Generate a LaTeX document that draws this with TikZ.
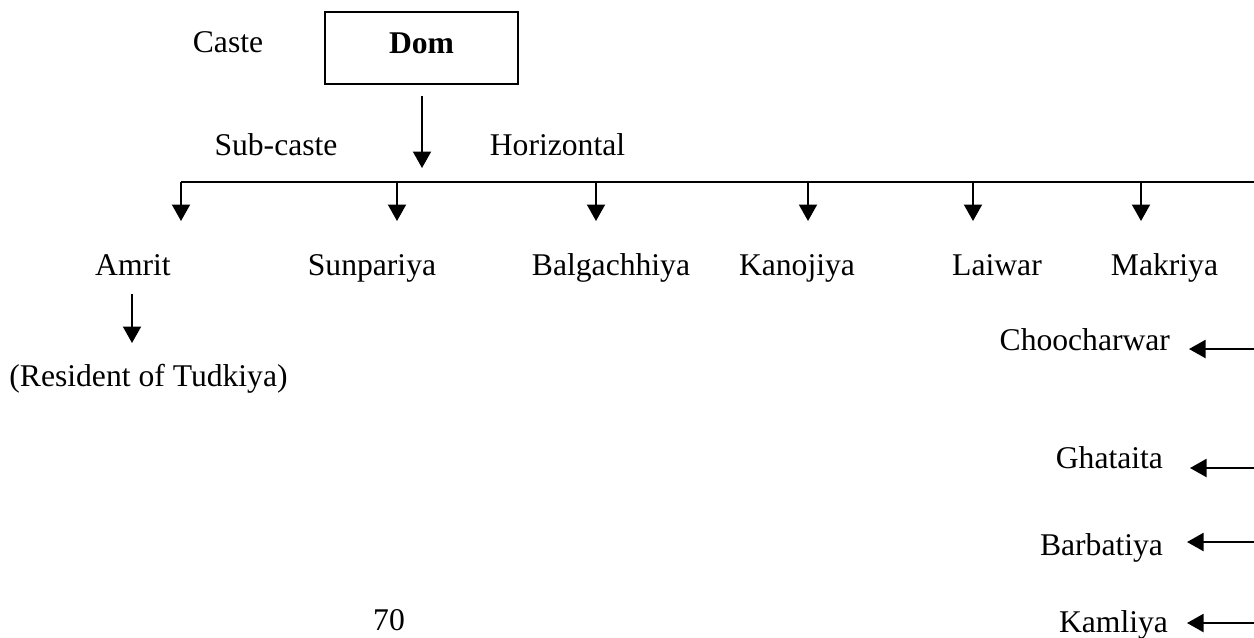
\documentclass[tikz,border=0pt]{standalone}
\usepackage{fontspec}
\setmainfont{Liberation Serif}
\usetikzlibrary{arrows.meta}
\begin{document}
\begin{tikzpicture}[x=0.02cm,y=-0.02cm,
  every node/.style={inner sep=0pt,outer sep=0pt,font=\fontsize{18}{21.6}\selectfont},
  lbl/.style={anchor=base},
  rlbl/.style={anchor=base east},
  arr/.style={line width=0.04cm,-{Triangle[width=0.36cm,length=0.33cm]}},
  rule/.style={line width=0.04cm},
  castebox/.style={draw,line width=0.035cm,minimum width=193*0.02cm,minimum height=72*0.02cm}]
\useasboundingbox (0,0) rectangle (1254,637);

% caste box and headings
\node[castebox] (dombox) at (421.5,48) {};
\node[lbl] (dom) at (421.5,53) {\textbf{Dom}};
\node[lbl] (caste) at (228,52) {Caste};
\node[lbl] (subcaste) at (276,155) {Sub-caste};
\node[lbl] (horiz) at (557.5,155) {Horizontal};
\coordinate (d1) at (422,96);
\coordinate (d2) at (422,168);
\draw[arr] (d1) -- (d2);

% horizontal rule with the sub-castes hanging from it
\coordinate (hl) at (181,182);
\coordinate (hr) at (1254,182);
\draw[rule] (hl) -- (hr);

\node[lbl] (amrit) at (133,275) {Amrit};
\node[lbl] (sunpariya) at (372,275) {Sunpariya};
\node[lbl] (balgachhiya) at (611,275) {Balgachhiya};
\node[lbl] (kanojiya) at (797,275) {Kanojiya};
\node[lbl] (laiwar) at (997,275) {Laiwar};
\node[lbl] (makriya) at (1164.5,275) {Makriya};

\foreach \x/\n in {181/amrit,397/sunpariya,596/balgachhiya,808/kanojiya,973/laiwar,1141/makriya}{
  \coordinate (tap-\n) at (\x,182);
  \coordinate (in-\n) at (\x,221);
  \draw[arr] (tap-\n) -- (in-\n);
}

% Amrit branch
\node[lbl] (tudkiya) at (148.5,386) {(Resident of Tudkiya)};
\coordinate (a1) at (132,294);
\coordinate (a2) at (132,343);
\draw[arr] (a1) -- (a2);

% entries coming in from the right
\node[rlbl] (choocharwar) at (1170,350) {Choocharwar};
\node[rlbl] (ghataita) at (1163,468) {Ghataita};
\node[rlbl] (barbatiya) at (1163,555) {Barbatiya};
\node[rlbl] (kamliya) at (1168,632) {Kamliya};
\coordinate (r1) at (1254,349);
\coordinate (r2) at (1254,468);
\coordinate (r3) at (1254,542);
\coordinate (r4) at (1254,623);
\draw[arr] (r1) -- ([xshift=19*0.02cm]choocharwar.east |- r1);
\draw[arr] (r2) -- ([xshift=27*0.02cm]ghataita.east |- r2);
\draw[arr] (r3) -- ([xshift=24*0.02cm]barbatiya.east |- r3);
\draw[arr] (r4) -- ([xshift=19*0.02cm]kamliya.east |- r4);

% page number
\node[lbl] (pageno) at (389,630) {70};
\end{tikzpicture}
\end{document}
